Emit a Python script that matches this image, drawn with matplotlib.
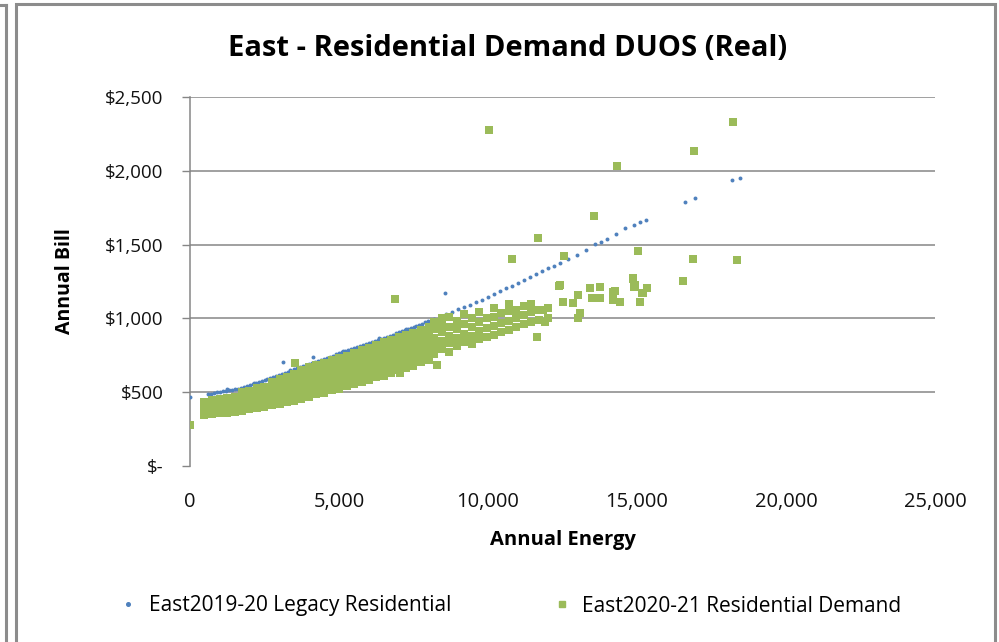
import matplotlib
matplotlib.use("Agg")
import matplotlib.pyplot as plt
from matplotlib.lines import Line2D
from matplotlib.patches import Rectangle
from matplotlib.ticker import FuncFormatter

# ---------------- data ----------------
title = "East - Residential Demand DUOS (Real)"
x_label = "Annual Energy"
y_label = "Annual Bill"
series_names = ["East2019-20 Legacy Residential", "East2020-21 Residential Demand"]

blue_energy = [0, 600, 700, 800, 900, 1000, 1100, 1200, 1300, 1400, 1500, 1600, 1700, 1800, 1900,
               2000, 2100, 2200, 2300, 2400, 2500, 2600, 2700, 2800, 2900, 3000, 3100, 3200, 3300,
               3400, 3500, 3600, 3700, 3800, 3900, 4000, 4100, 4200, 4300, 4400, 4500, 4600, 4700,
               4800, 4900, 5000, 5100, 5200, 5300, 5400, 5500, 5600, 5700, 5800, 5900, 6000, 6100,
               6200, 6300, 6400, 6500, 6600, 6700, 6800, 6900, 7000, 7100, 7200, 7300, 7400, 7500,
               7600, 7700, 7800, 7900, 8000, 8200, 8400, 8600, 8800, 9000, 9200, 9400, 9600, 9800,
               10000, 10200, 10400, 10600, 10800, 11000, 11200, 11400, 11600, 11800, 12000, 12200,
               12400, 12700, 13000, 13300, 13600, 13800, 14000, 14300, 14600, 14900, 15100, 15300,
               3120, 4130, 8560, 16600, 16950, 18200, 18450, 1250, 2150, 3350, 5150, 6350, 7250]
blue_bill = [467, 485, 488, 492, 498, 503, 505, 509, 512, 516, 519, 524, 530, 534, 540,
             546, 553, 560, 568, 575, 583, 590, 598, 604, 611, 618, 625, 632, 640,
             647, 655, 662, 668, 676, 683, 690, 697, 704, 711, 718, 725, 733, 740,
             748, 756, 763, 770, 777, 784, 790, 797, 804, 811, 818, 825, 832, 839,
             846, 853, 860, 867, 874, 882, 890, 898, 905, 912, 919, 926, 933, 940,
             948, 956, 965, 974, 983, 995, 1012, 1028, 1045, 1062, 1078, 1092, 1108, 1125,
             1145, 1165, 1185, 1205, 1222, 1240, 1258, 1280, 1300, 1320, 1340, 1358,
             1378, 1400, 1430, 1465, 1505, 1520, 1540, 1570, 1610, 1630, 1650, 1670,
             705, 738, 1172, 1790, 1815, 1938, 1952, 522, 565, 652, 780, 868, 930]

# green: dense band read column by column (energy of column, bills in that column)
green_col_energy = [480, 740, 1010, 1240, 1500, 1760, 1990, 2260, 2490, 2760, 3010, 3240, 3500,
                    3740, 4010, 4240, 4510, 4760, 4990, 5260, 5490, 5760, 6010, 6240, 6510, 6760,
                    7000, 7260, 7490, 7760, 8010, 8200, 8450, 8700, 8950, 9200, 9450, 9700, 9950,
                    10200, 10450, 10700, 10950, 11200, 11450, 11700, 12000]
green_col_bills = [
    [345, 392, 432], [352, 398, 446], [356, 404, 452], [362, 412, 461], [368, 418, 470],
    [376, 424, 472, 498], [384, 432, 478, 508], [392, 441, 486, 526], [402, 452, 497, 538],
    [414, 455, 505, 548, 566], [418, 468, 512, 553, 588], [434, 476, 524, 566, 606],
    [438, 488, 528, 577, 622], [457, 498, 547, 588, 633, 652], [468, 517, 558, 607, 648, 668],
    [485, 525, 574, 615, 664, 682], [495, 544, 585, 634, 675, 698], [512, 553, 602, 643, 692, 718],
    [523, 572, 613, 662, 703, 732], [542, 583, 632, 673, 722, 748], [553, 602, 643, 692, 733, 768],
    [572, 613, 662, 703, 752, 787], [583, 632, 673, 722, 763, 802], [602, 643, 692, 733, 782, 822],
    [613, 662, 703, 752, 793, 837], [632, 673, 722, 763, 812, 852], [648, 697, 738, 787, 828, 872],
    [667, 708, 757, 798, 847, 887], [678, 727, 768, 817, 858, 903], [702, 743, 792, 833, 882, 922],
    [718, 767, 808, 857, 898, 943], [760, 812, 870, 930, 975], [790, 845, 905, 960, 1000],
    [770, 830, 880, 945, 1010], [815, 870, 925, 985], [840, 895, 960, 1030], [825, 880, 940, 1000],
    [860, 915, 975, 1045], [875, 935, 1000], [890, 950, 1010, 1070], [905, 970, 1035],
    [920, 985, 1050, 1100], [945, 1000, 1060], [960, 1020, 1085], [975, 1040, 1095],
    [990, 1055], [1005, 1070]]

# green: scattered points outside the dense band
green_out_energy = [12420, 11850, 11900, 12520, 12850, 13020, 13090, 13020, 13420, 13500, 13760,
                    13760, 14200, 14200, 14430, 14870, 14930, 15100, 15330, 15200, 14260, 14860,
                    14900, 15170, 0, 6880, 7050, 8290, 7990, 3520, 11640, 10030, 14330, 16910,
                    18220, 13560, 11680, 10800, 12550, 15030, 16880, 18360, 16540, 12380]
green_out_bill = [1226, 1057, 976, 1111, 1104, 1159, 1036, 1003, 1206, 1138, 1213,
                  1138, 1179, 1125, 1111, 1274, 1226, 1111, 1206, 1172, 1186, 1267,
                  1213, 1172, 280, 1130, 630, 684, 738, 700, 874, 2276, 2032, 2134,
                  2331, 1694, 1545, 1402, 1423, 1457, 1402, 1395, 1253, 1220]

x_ticks = [0, 5000, 10000, 15000, 20000, 25000]
y_ticks = [0, 500, 1000, 1500, 2000, 2500]

green_energy = [e for e, bills in zip(green_col_energy, green_col_bills) for _ in bills] + green_out_energy
green_bill = [b for bills in green_col_bills for b in bills] + green_out_bill

# ---------------- style ----------------
blue = "#4F81BD"
green = "#9BBB59"
grid_col = "#868686"
plt.rcParams["font.family"] = ["Open Sans", "DejaVu Sans"]

fig = plt.figure(figsize=(9.99, 6.42), dpi=100)
ax = fig.add_axes([190 / 999, 1 - 466 / 642, 745 / 999, 369 / 642])

ax.scatter(blue_energy, blue_bill, s=8, marker="o", color=blue, linewidths=0, zorder=3)
ax.scatter(green_energy, green_bill, s=36, marker="s", color=green, linewidths=0, zorder=4)

ax.set_xlim(0, 25000)
ax.set_ylim(0, 2500)
ax.set_xticks(x_ticks)
ax.set_yticks(y_ticks)
ax.xaxis.set_major_formatter(FuncFormatter(lambda v, p: f"{int(v):,}"))
ax.yaxis.set_major_formatter(FuncFormatter(lambda v, p: "$-" if v == 0 else f"${int(v):,}"))
ax.tick_params(axis="y", length=6, width=1, color=grid_col, labelsize=13.5, labelcolor="#111111", pad=13)
ax.tick_params(axis="x", length=0, labelsize=14.5, labelcolor="#111111", pad=19)

for v in y_ticks[1:]:
    ax.axhline(v, color=grid_col, lw=1.1, zorder=1)
for s in ["top", "right", "bottom"]:
    ax.spines[s].set_visible(False)
ax.spines["left"].set_color(grid_col)
ax.spines["left"].set_linewidth(1.1)

ax.set_xlabel(x_label, fontsize=14.5, fontweight="bold", labelpad=13)
ax.set_ylabel(y_label, fontsize=14, fontweight="bold", labelpad=22)

fig.text(0.508, 1 - 48 / 642, title, fontsize=21, fontweight="bold", ha="center", va="center")

# legend
handles = [Line2D([], [], marker="o", ls="", color=blue, markersize=2.6),
           Line2D([], [], marker="s", ls="", color=green, markersize=4.5)]
fig.legend(handles, series_names, loc="center", bbox_to_anchor=(0.51, 1 - 606 / 642),
           ncol=2, frameon=False, fontsize=15, columnspacing=4.8, handletextpad=0.5,
           handlelength=1.0)

# frames
fig.add_artist(Rectangle((16 / 999, -0.05), (995 - 16) / 999, 1.05 - 4 / 642,
                         transform=fig.transFigure, fill=False, ec="#8c8c8c", lw=2.2))
fig.add_artist(Line2D([5.5 / 999, 5.5 / 999], [0, 1 - 5 / 642], transform=fig.transFigure,
                      color="#8c8c8c", lw=2.2))
fig.add_artist(Line2D([0, 5.5 / 999], [1 - 5 / 642, 1 - 5 / 642], transform=fig.transFigure,
                      color="#8c8c8c", lw=2.2))

fig.savefig("out.png", dpi=100)
